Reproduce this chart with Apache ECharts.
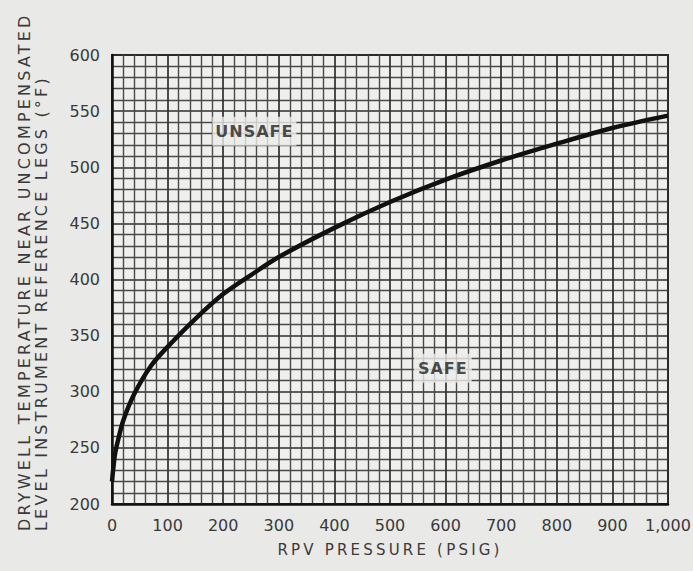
<!DOCTYPE html>
<html>
<head>
<meta charset="utf-8">
<script src="https://cdn.jsdelivr.net/npm/echarts@6/dist/echarts.min.js"></script>
<style>
html,body{margin:0;padding:0;background:#e9e9e7;}
#c{width:693px;height:571px;}
#c text[style*="Verdana"]{letter-spacing:3.2px;}
#c text[style*="Tahoma"]{letter-spacing:1px;}
</style>
</head>
<body>
<div id="c"></div>
<script>
// Data
const pressure = [0, 5, 10, 20, 40, 70, 100, 150, 200, 250, 300, 400, 500, 600, 700, 800, 900, 1000];
const temperature = [220, 243, 255, 274, 298, 323, 340, 365, 387, 404, 420, 446, 469, 489, 506, 521, 535, 546];
const xTickLabels = ['0','100','200','300','400','500','600','700','800','900','1,000'];
const yTickLabels = ['200','250','300','350','400','450','500','550','600'];
const regionLabels = ['UNSAFE', 'SAFE'];
const xTitle = 'RPV PRESSURE (PSIG)';
const yTitleLines = ['DRYWELL TEMPERATURE NEAR UNCOMPENSATED', 'LEVEL INSTRUMENT REFERENCE LEGS (°F)'];

const chart = echarts.init(document.getElementById('c'), null, {renderer: 'svg'});
const tickFont = '"DejaVu Sans", sans-serif';
const titleFont = 'Verdana, "DejaVu Sans", sans-serif';
const regionFont = 'Tahoma, "DejaVu Sans", sans-serif';
const txt = '#3a3a3a';

chart.setOption({
  backgroundColor: '#e9e9e7',
  animation: false,
  grid: {
    left: 112, right: 25, top: 55, bottom: 67, outerBoundsMode: 'none',
    show: true, backgroundColor: '#efefed', borderColor: '#222', borderWidth: 2
  },
  xAxis: {
    type: 'value', min: 0, max: 1000, interval: 100,
    name: xTitle, nameLocation: 'middle', nameGap: 38,
    nameTextStyle: {fontFamily: titleFont, fontSize: 15, color: txt, verticalAlign: 'top'},
    axisLine: {show: true, lineStyle: {color: '#111', width: 2.5}},
    axisTick: {show: false},
    axisLabel: {
      margin: 13, fontFamily: tickFont, fontSize: 16, color: txt,
      formatter: (v) => xTickLabels[Math.round(v / 100)]
    },
    splitLine: {show: true, lineStyle: {color: '#2e2e2e', width: 1.7}},
    minorTick: {show: false, splitNumber: 5},
    minorSplitLine: {show: true, lineStyle: {color: '#4a4a4a', width: 1.4}}
  },
  yAxis: {
    type: 'value', min: 200, max: 600, interval: 50,
    axisLine: {show: true, lineStyle: {color: '#111', width: 2.5}},
    axisTick: {show: false},
    axisLabel: {
      margin: 12, fontFamily: tickFont, fontSize: 16, color: txt,
      formatter: (v) => yTickLabels[Math.round((v - 200) / 50)]
    },
    splitLine: {show: true, lineStyle: {color: '#2e2e2e', width: 1.7}},
    minorTick: {show: false, splitNumber: 5},
    minorSplitLine: {show: true, lineStyle: {color: '#4a4a4a', width: 1.4}}
  },
  graphic: yTitleLines.map((line, i) => ({
    type: 'text',
    x: 24 + i * 17, y: 531,
    rotation: Math.PI / 2,
    style: {text: line, fontFamily: titleFont, fontSize: 16, fill: txt, textAlign: 'left', textVerticalAlign: 'middle'}
  })),
  series: [
    {
      type: 'line',
      data: pressure.map((p, i) => [p, temperature[i]]),
      smooth: 0.3,
      showSymbol: false,
      lineStyle: {color: '#111', width: 4.5},
      z: 5
    },
    {
      type: 'scatter',
      symbolSize: 0,
      data: [
        {value: [256, 532], name: regionLabels[0]},
        {value: [595, 321], name: regionLabels[1]}
      ],
      label: {
        show: true, position: 'inside', formatter: (p) => p.name,
        fontFamily: regionFont, fontSize: 16, fontWeight: 'bold', color: '#1e1e1e',
        backgroundColor: '#ececea', padding: [7, 6, 6, 6]
      },
      z: 6
    }
  ]
});
</script>
</body>
</html>
